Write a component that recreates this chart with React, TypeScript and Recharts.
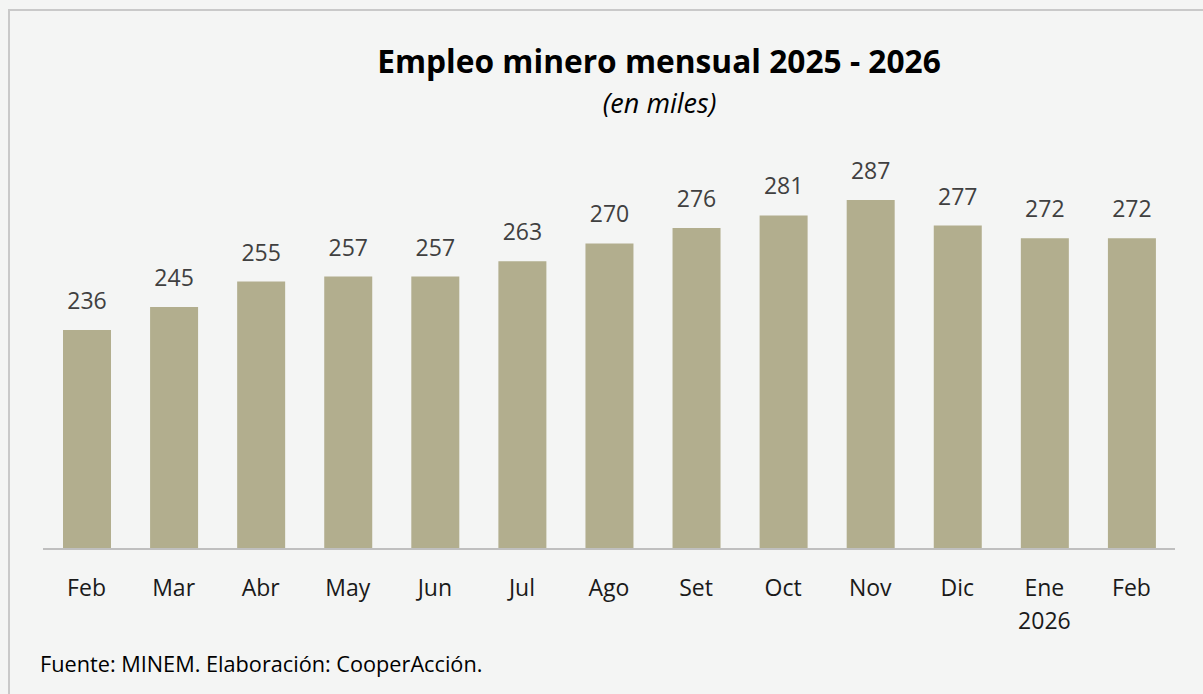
import { BarChart, Bar, XAxis, YAxis, LabelList } from "recharts";

const months = ["Feb", "Mar", "Abr", "May", "Jun", "Jul", "Ago", "Set", "Oct", "Nov", "Dic", "Ene", "Feb"];
const yearNotes = ["", "", "", "", "", "", "", "", "", "", "", "2026", ""];
const empleo = [236, 245, 255, 257, 257, 263, 270, 276, 281, 287, 277, 272, 272];

const data = months.map((m, i) => ({ mes: m, year: yearNotes[i], empleo: empleo[i] }));

const FONT = "'Open Sans', sans-serif";

function MonthTick(props: any) {
  const { x, y, index } = props;
  const d = data[index];
  return (
    <g>
      <text x={x} y={y + 39} textAnchor="middle" fill="#1a1a1a" fontSize={23} fontFamily={FONT}>
        {d.mes}
      </text>
      {d.year && (
        <text x={x} y={y + 72} textAnchor="middle" fill="#1a1a1a" fontSize={23} fontFamily={FONT}>
          {d.year}
        </text>
      )}
    </g>
  );
}

export default function App() {
  return (
    <div
      style={{
        position: "absolute",
        left: 0,
        top: 0,
        width: 1203,
        height: 694,
        overflow: "hidden",
        background: "#F4F5F4",
        fontFamily: FONT,
      }}
    >
      <div
        style={{
          position: "absolute",
          left: 8,
          top: 9,
          width: 1300,
          height: 800,
          border: "2px solid #C9C9C9",
        }}
      />
      <div
        style={{
          position: "absolute",
          left: 0,
          top: 41,
          width: 1318,
          textAlign: "center",
          fontWeight: 700,
          fontSize: 31.7,
          color: "#000",
          lineHeight: "40px",
        }}
      >
        Empleo minero mensual 2025 - 2026
      </div>
      <div
        style={{
          position: "absolute",
          left: 0,
          top: 86.5,
          width: 1319,
          textAlign: "center",
          fontStyle: "italic",
          fontSize: 27,
          color: "#000",
          lineHeight: "32px",
        }}
      >
        (en miles)
      </div>
      <div style={{ position: "absolute", left: 0, top: 0 }}>
        <BarChart
          width={1203}
          height={694}
          data={data}
          margin={{ top: 167, right: 28, left: 43, bottom: 85 }}
        >
          <XAxis
            dataKey="mes"
            height={60}
            interval={0}
            axisLine={{ stroke: "#BFBFBF", strokeWidth: 2 }}
            tickLine={false}
            tick={<MonthTick />}
          />
          <YAxis hide domain={[150, 300]} allowDataOverflow />
          <Bar dataKey="empleo" fill="#B2AE8E" barSize={48} isAnimationActive={false}>
            <LabelList
              dataKey="empleo"
              position="top"
              offset={21}
              fill="#404040"
              fontSize={23}
              fontFamily={FONT}
            />
          </Bar>
        </BarChart>
      </div>
      <div
        style={{
          position: "absolute",
          left: 40,
          top: 652,
          fontSize: 21.7,
          color: "#000",
          lineHeight: "24px",
        }}
      >
        Fuente: MINEM. Elaboración: CooperAcción.
      </div>
    </div>
  );
}
